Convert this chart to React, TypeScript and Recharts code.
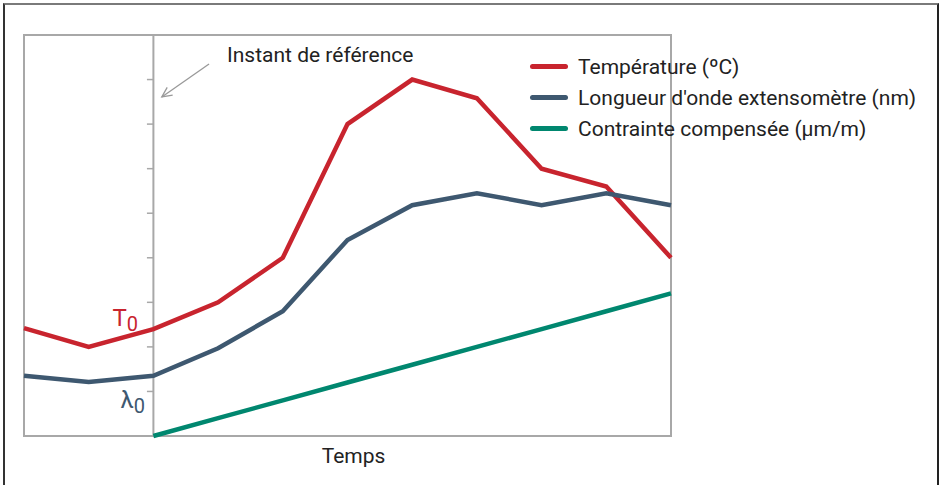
import {
  LineChart, Line, XAxis, YAxis, ReferenceLine, ReferenceArea, ReferenceDot,
} from 'recharts'

// time steps (arbitrary units), reference instant at t = 2
const steps = [0, 1, 2, 3, 4, 5, 6, 7, 8, 9, 10]
const temperature = [2.42, 2.0, 2.4, 3.0, 4.0, 7.0, 8.0, 7.58, 6.0, 5.6, 4.0]
const wavelength = [1.35, 1.21, 1.35, 1.97, 2.8, 4.4, 5.18, 5.45, 5.18, 5.45, 5.18]
const strain = [null, null, 0, 0.4, 0.8, 1.2, 1.6, 2.0, 2.4, 2.8, 3.2]
const refTicks = [1, 2, 3, 4, 5, 6, 7, 8]
const REF_T = 2

const RED = '#c8242e'
const BLUE = '#3e5870'
const GREEN = '#00876f'
const GRID = '#a8a8a8'
const FONT = 'Roboto, "Noto Sans", sans-serif'

const series = [
  { key: 'temp', name: 'Température (ºC)', color: RED },
  { key: 'wave', name: "Longueur d'onde extensomètre (nm)", color: BLUE },
  { key: 'strain', name: 'Contrainte compensée (µm/m)', color: GREEN },
]

const data = steps.map((t, i) => ({
  t,
  temp: temperature[i],
  wave: wavelength[i],
  strain: strain[i],
}))

const LegendBox = () => (
  <div style={{ position: 'absolute', left: 530, top: 51, fontFamily: FONT, fontSize: 21, color: '#222' }}>
    {series.map(s => (
      <div key={s.key} style={{ display: 'flex', alignItems: 'center', height: 31, whiteSpace: 'nowrap' }}>
        <span style={{ display: 'inline-block', width: 38, height: 5, borderRadius: 3, background: s.color, marginRight: 10 }} />
        <span>{s.name}</span>
      </div>
    ))}
  </div>
)

const subLabel = (main: string, color: string, dx: number, dy: number) => (props: any) => {
  const vb = props.viewBox || {}
  const x = (vb.x ?? 0) + (vb.width ?? 0) / 2 + dx
  const y = (vb.y ?? 0) + (vb.height ?? 0) / 2 + dy
  return (
    <text x={x} y={y} fill={color} fontFamily={FONT} fontSize={24}>
      {main}
      <tspan fontSize={20} dy={5}>0</tspan>
    </text>
  )
}

// arrow pointing at the reference instant, with its caption
const ArrowShape = (p: any) => {
  const { x1, y1, x2, y2 } = p
  const ang = Math.atan2(y2 - y1, x2 - x1)
  const L = 11
  const a1 = ang + Math.PI - 0.45
  const a2 = ang + Math.PI + 0.45
  return (
    <g>
      <line x1={x1} y1={y1} x2={x2} y2={y2} stroke="#999" strokeWidth={1.3} />
      <polyline
        points={`${x2 + L * Math.cos(a1)},${y2 + L * Math.sin(a1)} ${x2},${y2} ${x2 + L * Math.cos(a2)},${y2 + L * Math.sin(a2)}`}
        fill="none" stroke="#999" strokeWidth={1.3}
      />
      <text x={x1 + 18} y={y1 - 2} fill="#222" fontFamily={FONT} fontSize={21}>Instant de référence</text>
    </g>
  )
}

export default function App() {
  return (
    <div style={{ position: 'absolute', left: 0, top: 0, width: 940, height: 485, background: '#fff' }}>
      <div style={{
        position: 'absolute', left: 3, top: 3, width: 932, height: 482,
        borderTop: '2px solid #7a7a7a', borderLeft: '2px solid #333', borderRight: '2px solid #222',
      }} />
      <LineChart width={940} height={485} data={data} margin={{ top: 35, right: 269, left: 24, bottom: 49 }}>
        <XAxis dataKey="t" type="number" domain={[0, 10]} hide />
        <YAxis type="number" domain={[0, 9]} hide />
        <ReferenceArea x1={0} x2={10} y1={0} y2={9} fill="none" stroke={GRID} strokeWidth={2} />
        <ReferenceLine x={REF_T} stroke={GRID} strokeWidth={2} />
        {refTicks.map(v => (
          <ReferenceLine key={v} segment={[{ x: REF_T - 0.1, y: v }, { x: REF_T, y: v }]} stroke={GRID} strokeWidth={1.5} />
        ))}
        <ReferenceLine segment={[{ x: 2.86, y: 8.35 }, { x: 2.13, y: 7.61 }]} shape={ArrowShape} />
        <Line dataKey="temp" name={series[0].name} stroke={RED} strokeWidth={4.5} dot={false} isAnimationActive={false} />
        <Line dataKey="wave" name={series[1].name} stroke={BLUE} strokeWidth={4.5} dot={false} isAnimationActive={false} />
        <Line dataKey="strain" name={series[2].name} stroke={GREEN} strokeWidth={4.5} dot={false} isAnimationActive={false} />
        <ReferenceDot x={REF_T} y={temperature[2]} r={0} label={{ content: subLabel('T', RED, -41, -3) }} />
        <ReferenceDot x={REF_T} y={wavelength[2]} r={0} label={{ content: subLabel('λ', BLUE, -33, 32) }} />
        <ReferenceDot x={5} y={0} r={0} label={{
          content: (p: any) => {
            const vb = p.viewBox || {}
            return (
              <text x={(vb.x ?? 0) + 6} y={(vb.y ?? 0) + 27} textAnchor="middle" fill="#222" fontFamily={FONT} fontSize={21}>Temps</text>
            )
          },
        }} />
      </LineChart>
      <LegendBox />
    </div>
  )
}
